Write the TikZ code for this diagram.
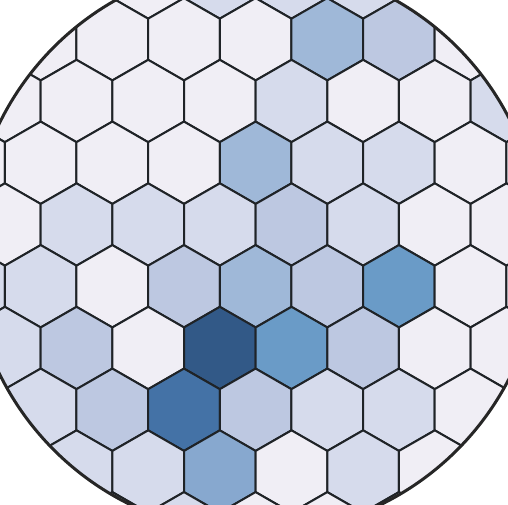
\documentclass[tikz,border=0pt]{standalone}
\usetikzlibrary{calc}
\definecolor{L0}{HTML}{F0EEF5}
\definecolor{L1}{HTML}{D6DBEC}
\definecolor{L2}{HTML}{BDC8E1}
\definecolor{L3}{HTML}{9FB8D8}
\definecolor{L3b}{HTML}{87A8CF}
\definecolor{L4}{HTML}{6A9BC7}
\definecolor{L5}{HTML}{4472A6}
\definecolor{L6}{HTML}{325987}
\definecolor{hexstroke}{HTML}{1F2327}
\definecolor{rimstroke}{HTML}{262626}
\tikzset{
  hexline/.style={draw=hexstroke, line width=2pt, line join=round},
  rimline/.style={draw=rimstroke, line width=3pt}
}
\newcommand\hexcell[3]{%
  \filldraw[hexline, fill=#3]
    ({#1},{#2-41.17}) -- ({#1+35.83},{#2-20.58}) -- ({#1+35.83},{#2+20.58})
    -- ({#1},{#2+41.17}) -- ({#1-35.83},{#2+20.58}) -- ({#1-35.83},{#2-20.58}) -- cycle;}
\newcommand\hexrow[3]{% x0, y, list of colours
  \foreach \c [count=\k from 0] in {#3} {\hexcell{#1+71.65*\k}{#2}{\c}}}
\begin{document}
\begin{tikzpicture}[x=1pt,y=-1pt]
\useasboundingbox (0,0) rectangle (508,504);
\coordinate (ctr) at (255.5,248.5);
\begin{scope}
  \clip (ctr) circle[radius=285pt];
  \hexrow{4.9}{-22.5}{L0,L0,L0,L1,L1,L1,L0,L0}
  \hexrow{-31}{39.25}{L0,L0,L0,L0,L0,L3,L2,L0,L0}
  \hexrow{4.9}{101}{L0,L0,L0,L0,L1,L0,L0,L1}
  \hexrow{-31}{162.75}{L0,L0,L0,L0,L3,L1,L1,L0,L0}
  \hexrow{4.9}{224.5}{L0,L1,L1,L1,L2,L1,L0,L0}
  \hexrow{-31}{286.25}{L1,L1,L0,L2,L3,L2,L4,L0,L0}
  \hexrow{4.9}{348}{L1,L2,L0,L6,L4,L2,L0,L0}
  \hexrow{-31}{409.75}{L1,L1,L2,L5,L2,L1,L1,L0,L0}
  \hexrow{4.9}{471.5}{L1,L1,L1,L3b,L0,L1,L0,L0}
  \hexrow{-31}{533.25}{L1,L1,L1,L1,L0,L0,L0,L0,L0}
\end{scope}
\draw[rimline] (ctr) circle[radius=285pt];
\end{tikzpicture}
\end{document}
